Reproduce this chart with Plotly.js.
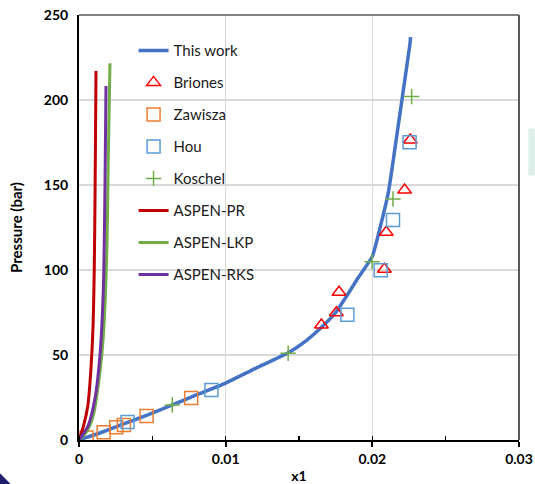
<!DOCTYPE html>
<html>
<head>
<meta charset="utf-8">
<script src="https://cdn.plot.ly/plotly-3.0.1.min.js"></script>
<style>html,body{margin:0;padding:0;background:#fff;}#chart{width:535px;height:484px;}</style>
</head>
<body>
<div id="chart"></div>
<script>
// ---- data ----
const thisWorkX = [0, 0.0005, 0.0017, 0.003, 0.0046, 0.0064, 0.008, 0.01, 0.012, 0.0143, 0.0155, 0.0165, 0.0175, 0.0182, 0.019, 0.02, 0.0205, 0.0211, 0.0216, 0.0221, 0.02258, 0.0226];
const thisWorkY = [0, 1.5, 5, 9.3, 14.5, 20.8, 26.5, 33.5, 42, 51.5, 58.5, 66, 75, 84, 95, 108, 124, 146, 175, 205, 234, 237];

const brionesX = [0.01653, 0.01755, 0.01773, 0.02082, 0.02095, 0.0222, 0.02259];
const brionesY = [67.6, 74.9, 86.9, 100.4, 122.2, 147, 176.5];

const zawiszaX = [0.00052, 0.00168, 0.00254, 0.00306, 0.00461, 0.00765];
const zawiszaY = [1.4, 4.5, 7.5, 8.8, 14.1, 24.7];

const houX = [0.00331, 0.00903, 0.0183, 0.02057, 0.02141, 0.02254];
const houY = [10.6, 29.4, 73.7, 99.8, 129.4, 175.1];

const koschelX = [0.00636, 0.01426, 0.01998, 0.02141, 0.02268];
const koschelY = [20.6, 51.0, 104.9, 141.8, 202.0];

const aspenPRX = [0, 0.0003, 0.0006, 0.0008, 0.00095, 0.00104, 0.0011, 0.00116];
const aspenPRY = [0, 8, 20, 40, 65, 100, 150, 217];

const aspenLKPX = [0, 0.00052, 0.00098, 0.00143, 0.00165, 0.00189, 0.002, 0.00211];
const aspenLKPY = [0, 4.9, 14.7, 40.2, 60, 108.8, 167.6, 221.6];

const aspenRKSX = [0, 0.00064, 0.00109, 0.00143, 0.00166, 0.00177, 0.00184];
const aspenRKSY = [0, 8.8, 24.5, 50, 89, 148, 208.2];

const seriesNames = ["This work", "Briones", "Zawisza", "Hou", "Koschel", "ASPEN-PR", "ASPEN-LKP", "ASPEN-RKS"];
const xTickVals = [0, 0.01, 0.02, 0.03];
const xTickText = ["0", "0.01", "0.02", "0.03"];
const yTickVals = [0, 50, 100, 150, 200, 250];

// ---- traces ----
const traces = [
  {x: thisWorkX, y: thisWorkY, name: seriesNames[0], mode: 'lines', line: {color: '#4472C4', width: 3.5, shape: 'spline', smoothing: 0.5}},
  {x: brionesX, y: brionesY, name: seriesNames[1], mode: 'markers', marker: {symbol: 'triangle-up-open', color: '#FF0000', size: 12, line: {width: 1.5}}},
  {x: zawiszaX, y: zawiszaY, name: seriesNames[2], mode: 'markers', marker: {symbol: 'square-open', color: '#ED7D31', size: 13, line: {width: 1.5}}},
  {x: houX, y: houY, name: seriesNames[3], mode: 'markers', marker: {symbol: 'square-open', color: '#5B9BD5', size: 13, line: {width: 1.5}}},
  {x: koschelX, y: koschelY, name: seriesNames[4], mode: 'markers', marker: {symbol: 'cross-thin-open', color: '#70AD47', size: 11, line: {width: 1.5, color: '#70AD47'}}},
  {x: aspenPRX, y: aspenPRY, name: seriesNames[5], mode: 'lines', line: {color: '#C00000', width: 3, shape: 'spline', smoothing: 0.8}},
  {x: aspenLKPX, y: aspenLKPY, name: seriesNames[6], mode: 'lines', line: {color: '#70AD47', width: 3, shape: 'spline', smoothing: 0.8}},
  {x: aspenRKSX, y: aspenRKSY, name: seriesNames[7], mode: 'lines', line: {color: '#7030A0', width: 3, shape: 'spline', smoothing: 0.8}}
];
traces.forEach((t, i) => { t.legendgroup = 'g' + i; });

const layout = {
  width: 535, height: 484,
  margin: {l: 79, r: 15.5, t: 15, b: 44},
  paper_bgcolor: '#ffffff', plot_bgcolor: '#ffffff',
  font: {family: 'Lato, "Liberation Sans", sans-serif', color: '#000000', size: 14},
  showlegend: true,
  legend: {
    x: 0.124, xanchor: 'left', y: 0.955, yanchor: 'top',
    bgcolor: 'rgba(255,255,255,0)', borderwidth: 0,
    font: {size: 15, color: '#1a1a1a'},
    traceorder: 'grouped', tracegroupgap: 9.5
  },
  xaxis: {
    range: [0, 0.03], tickvals: xTickVals, ticktext: xTickText,
    showgrid: true, gridcolor: '#d9d9d9', gridwidth: 1.5,
    zeroline: false, showline: true, linecolor: '#000000', linewidth: 2,
    ticks: 'outside', ticklen: 5, tickwidth: 2, tickcolor: '#000000',
    minor: {dtick: 0.005, ticks: 'inside', ticklen: 4, tickwidth: 1.5, tickcolor: '#000000', showgrid: false},
    tickfont: {size: 14, family: 'Lato, sans-serif', weight: 'bold'},
    title: {text: '<b>x1</b>', font: {size: 14}, standoff: 8}
  },
  yaxis: {
    range: [0, 250], tickvals: yTickVals,
    showgrid: true, gridcolor: '#d9d9d9', gridwidth: 1.5,
    zeroline: false, showline: true, linecolor: '#000000', linewidth: 2,
    ticks: '', ticklabelstandoff: 6,
    tickfont: {size: 14, family: 'Lato, sans-serif', weight: 'bold'},
    title: {text: '<b>Pressure (bar)</b>', font: {size: 15}, standoff: 18}
  },
  shapes: [
    {type: 'line', xref: 'paper', yref: 'paper', x0: 0, x1: 1, y0: 1, y1: 1, line: {color: '#595959', width: 1.5}},
    {type: 'line', xref: 'paper', yref: 'paper', x0: 1, x1: 1, y0: 0, y1: 1, line: {color: '#595959', width: 2}},
    {type: 'rect', xref: 'paper', yref: 'paper', x0: 1.0215, x1: 1.04, y0: 0.622, y1: 0.733, fillcolor: '#dcf0e8', line: {width: 0}, layer: 'below'},
    {type: 'path', xref: 'paper', yref: 'paper', path: 'M -0.18,-0.078 L -0.155,-0.104 L -0.18,-0.104 Z', fillcolor: '#1f1f6e', line: {width: 0}}
  ]
};

Plotly.newPlot('chart', traces, layout, {displayModeBar: false, staticPlot: true});
</script>
</body>
</html>
